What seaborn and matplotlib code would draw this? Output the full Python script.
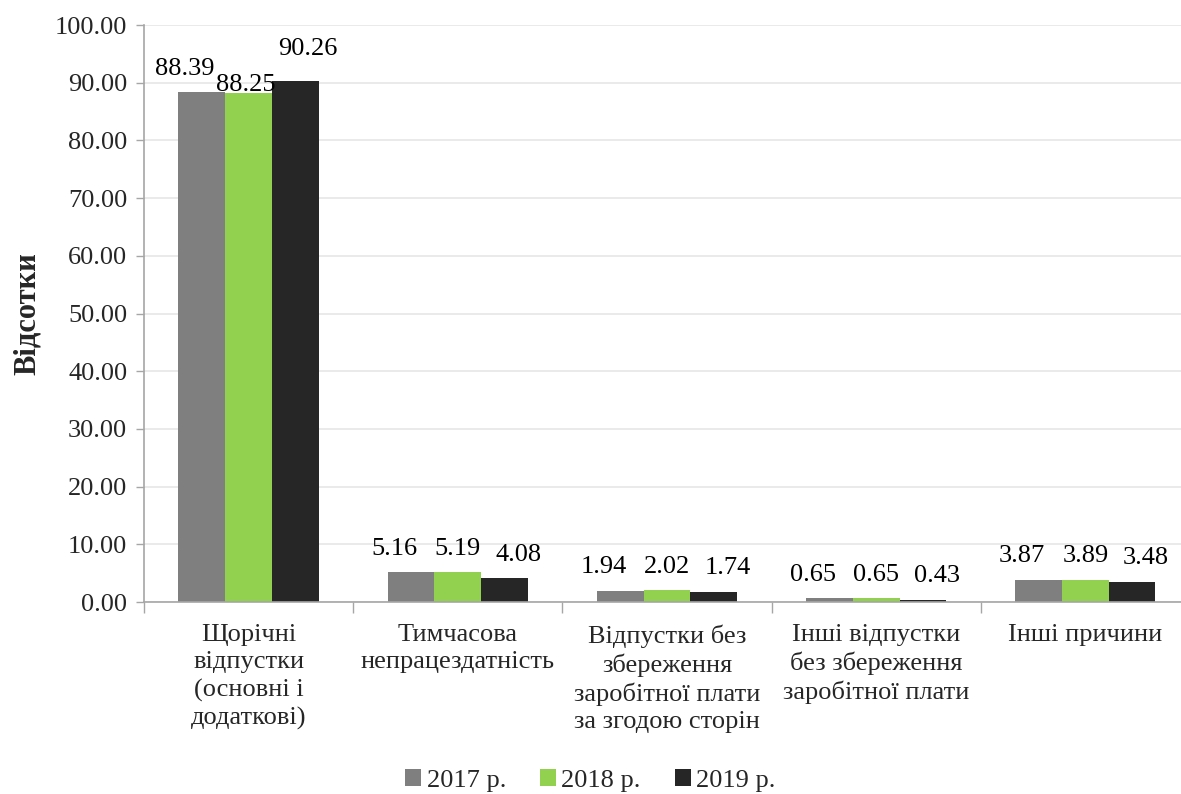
import matplotlib
matplotlib.use("Agg")
import matplotlib.pyplot as plt
import seaborn as sns
import pandas as pd
import numpy as np
from matplotlib.patches import Patch

categories = ["Щорічні\nвідпустки\n(основні і\nдодаткові)",
              "Тимчасова\nнепрацездатність",
              "Відпустки без\nзбереження\nзаробітної плати\nза згодою сторін",
              "Інші відпустки\nбез збереження\nзаробітної плати",
              "Інші причини"]
years = ["2017 р.", "2018 р.", "2019 р."]
v2017 = [88.39, 5.16, 1.94, 0.65, 3.87]
v2018 = [88.25, 5.19, 2.02, 0.65, 3.89]
v2019 = [90.26, 4.08, 1.74, 0.43, 3.48]
colors = ["#7F7F7F", "#92D050", "#262626"]
yticks = [0, 10, 20, 30, 40, 50, 60, 70, 80, 90, 100]

df = pd.DataFrame({
    "cat": categories * 3,
    "year": [years[0]] * 5 + [years[1]] * 5 + [years[2]] * 5,
    "val": v2017 + v2018 + v2019,
})

sns.set_theme(style="white")
plt.rcParams["font.family"] = ["Liberation Serif", "DejaVu Serif"]

FS = 19

fig = plt.figure(figsize=(11.81, 7.94), dpi=100)
ax = fig.add_axes([0.1219, 0.2418, 0.8857, 0.7267])

sns.barplot(data=df, x="cat", y="val", hue="year", order=categories,
            hue_order=years, palette=colors, width=0.67, saturation=1,
            edgecolor="none", linewidth=0, ax=ax, legend=False)

# labels are spread sideways (as Excel does) so they don't collide
spread = [(-12, 9), (0, 9), (10, 9)]
first_offsets = [(-12, 9), (-2, -2), (9, 15)]
for i, cont in enumerate(ax.containers):
    anns = ax.bar_label(cont, fmt="%.2f", padding=8, fontsize=FS, color="black")
    for j, a in enumerate(anns):
        a.xyann = first_offsets[i] if j == 0 else spread[i]

ax.set_ylim(0, 100)
ax.set_xlim(-0.5, 4.5)
ax.set_yticks(yticks)
ax.set_yticklabels([f"{t:.2f}" for t in yticks], fontsize=FS)
ax.yaxis.grid(True, color="#E6E6E6", linewidth=1.2)
ax.set_axisbelow(True)
ax.tick_params(axis="y", which="major", length=6, width=1, color="#A6A6A6",
               direction="out", left=True, pad=6)
ax.tick_params(axis="x", which="major", length=0, pad=16, labelsize=FS)
ax.set_xticks(np.arange(-0.5, 5.0, 1.0), minor=True)
ax.tick_params(axis="x", which="minor", length=8, width=1, color="#A6A6A6",
               direction="out", bottom=True)
for lab in ax.get_xticklabels():
    lab.set_multialignment("center")
    lab.set_linespacing(1.3)

for s in ["top", "right"]:
    ax.spines[s].set_visible(False)
for s in ["left", "bottom"]:
    ax.spines[s].set_color("#A6A6A6")
    ax.spines[s].set_linewidth(1.2)

ax.set_xlabel("")
ax.set_ylabel("Відсотки", fontsize=22, fontweight="bold")
ax.yaxis.set_label_coords(-0.0975, 0.5)

handles = [Patch(facecolor=c, edgecolor="none") for c in colors]
fig.legend(handles, years, loc="lower center", bbox_to_anchor=(0.5, -0.027),
           ncol=3, frameon=False, fontsize=FS, handlelength=0.6,
           handleheight=0.6, handletextpad=0.2, columnspacing=1.3)

fig.savefig("out.png", dpi=100)
